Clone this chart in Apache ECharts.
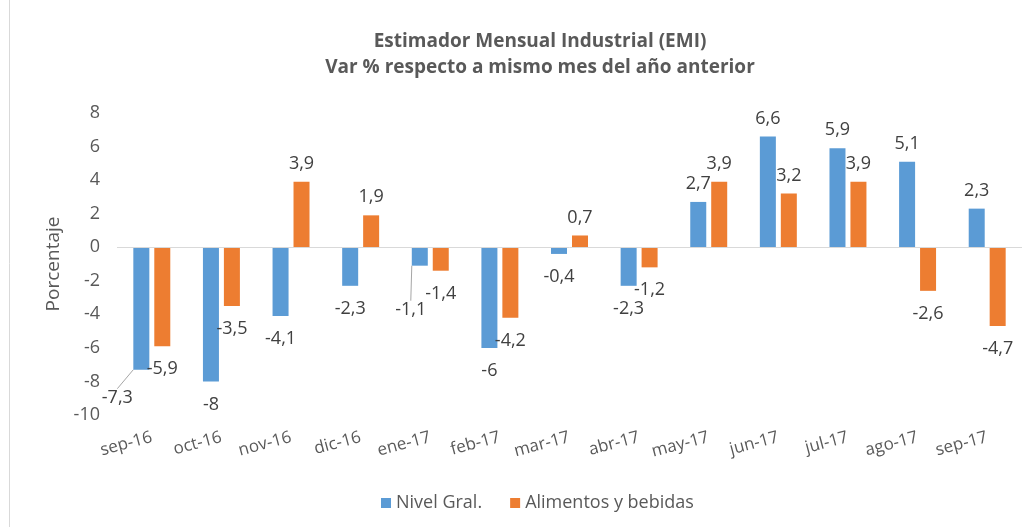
<!DOCTYPE html>
<html>
<head>
<meta charset="utf-8">
<script src="https://cdn.jsdelivr.net/npm/echarts@6/dist/echarts.min.js"></script>
<style>
html,body{margin:0;padding:0;background:#fff;}
#c{width:1032px;height:527px;}
</style>
</head>
<body>
<div id="c"></div>
<script>
var categories = ['sep-16','oct-16','nov-16','dic-16','ene-17','feb-17','mar-17','abr-17','may-17','jun-17','jul-17','ago-17','sep-17'];
var nivelGral = [-7.3, -8, -4.1, -2.3, -1.1, -6, -0.4, -2.3, 2.7, 6.6, 5.9, 5.1, 2.3];
var alimentos = [-5.9, -3.5, 3.9, 1.9, -1.4, -4.2, 0.7, -1.2, 3.9, 3.2, 3.9, -2.6, -4.7];
var seriesNames = ['Nivel Gral.', 'Alimentos y bebidas'];
var yTicks = [-10, -8, -6, -4, -2, 0, 2, 4, 6, 8];

var FONT = '"Open Sans", sans-serif';

function fmt(v){ return String(v).replace('.', ','); }

// labels moved away from their bars in the reference (with leader line)
var movedNivel = { 0: {dx: -24, dy: 5}, 4: {dx: -9, dy: 21} };

function items(arr, moved){
  return arr.map(function(v, i){
    var it = {
      value: v,
      label: { position: v < 0 ? 'bottom' : 'top', distance: v < 0 ? 14 : 9 }
    };
    if (moved && moved[i]) it.labelLine = { show: true };
    return it;
  });
}

var chart = echarts.init(document.getElementById('c'));
chart.setOption({
  animation: false,
  backgroundColor: '#ffffff',
  textStyle: { fontFamily: FONT },
  title: {
    text: 'Estimador Mensual Industrial (EMI)\nVar % respecto a mismo mes del año anterior',
    left: 535, top: 24, textAlign: 'center',
    textStyle: { fontFamily: FONT, fontSize: 19, fontWeight: 'bold', color: '#595959', lineHeight: 26 }
  },
  graphic: [{
    type: 'line', silent: true,
    shape: { x1: 9.5, y1: 0, x2: 9.5, y2: 527 },
    style: { stroke: '#d9d9d9', lineWidth: 1 }
  }],
  legend: {
    left: 376, top: 489,
    itemWidth: 10, itemHeight: 10, itemGap: 28,
    icon: 'rect',
    textStyle: { fontFamily: FONT, fontSize: 18, color: '#595959' },
    data: seriesNames
  },
  grid: { left: 117, right: 10, top: 113, bottom: 112, containLabel: false },
  xAxis: {
    type: 'category',
    data: categories,
    axisLine: { show: false },
    axisTick: { show: false },
    axisLabel: { interval: 0, hideOverlap: false, rotate: 15, margin: 22,
                 fontFamily: FONT, fontSize: 17, color: '#595959' }
  },
  yAxis: {
    type: 'value',
    min: yTicks[0], max: yTicks[yTicks.length - 1], interval: 2,
    name: 'Porcentaje', nameLocation: 'middle', nameRotate: 90, nameGap: 54,
    nameTextStyle: { fontFamily: FONT, fontSize: 19, color: '#595959' },
    axisLine: { show: false },
    axisTick: { show: false },
    splitLine: { show: false },
    axisLabel: { margin: 17, fontFamily: FONT, fontSize: 18, color: '#595959' }
  },
  series: [
    {
      name: seriesNames[0], type: 'bar',
      data: items(nivelGral, movedNivel),
      barWidth: 16, barGap: '31%',
      itemStyle: { color: '#5b9bd5' },
      label: { show: true, fontFamily: FONT, fontSize: 18, color: '#404040',
               formatter: function(p){ return fmt(p.value); } },
      labelLine: { show: false, lineStyle: { color: '#a6a6a6', width: 1 } },
      labelLayout: function(p){
        var m = movedNivel[p.dataIndex];
        return m ? { dx: m.dx, dy: m.dy } : {};
      },
      markLine: {
        silent: true, symbol: ['none','none'],
        label: { show: false },
        lineStyle: { color: '#d9d9d9', type: 'solid', width: 1 },
        data: [{ yAxis: 0 }]
      },
      z: 3
    },
    {
      name: seriesNames[1], type: 'bar',
      data: items(alimentos, null),
      barWidth: 16, barGap: '31%',
      itemStyle: { color: '#ed7d31' },
      label: { show: true, fontFamily: FONT, fontSize: 18, color: '#404040',
               formatter: function(p){ return fmt(p.value); } },
      z: 3
    }
  ]
});
</script>
</body>
</html>
